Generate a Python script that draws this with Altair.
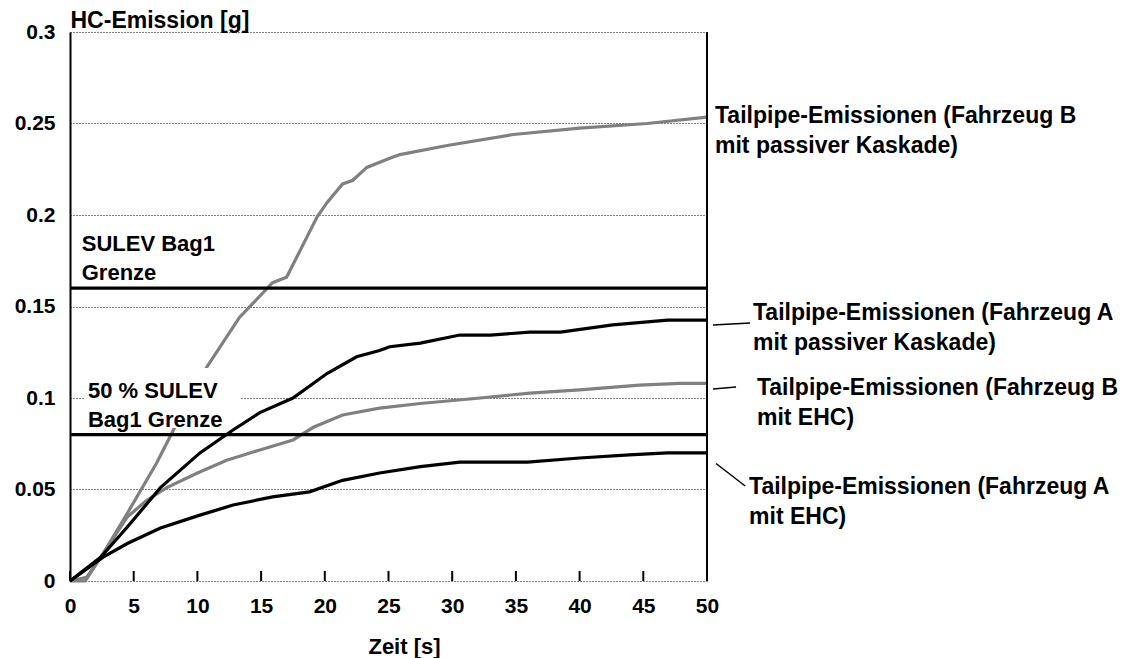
import altair as alt
import pandas as pd

# ---- data ----
b_pass_t = [0, 1.2, 2.6, 4.5, 6.8, 8.2, 10.75, 13.3, 15.9, 17.0, 19.4, 20.2, 21.4, 22.2, 23.3, 25.1, 25.9, 29.6, 34.8, 40, 45.3, 50]
b_pass_v = [0, 0, 0.015, 0.037, 0.0645, 0.0836, 0.117, 0.144, 0.163, 0.166, 0.199, 0.207, 0.217, 0.219, 0.226, 0.231, 0.233, 0.238, 0.244, 0.2475, 0.250, 0.2535]

a_pass_t = [0, 2.4, 4.5, 7.1, 10.2, 12.8, 14.9, 17.5, 20.2, 22.5, 24.3, 25.1, 27.5, 30.6, 33, 36.1, 38.5, 42.6, 46.9, 50]
a_pass_v = [0, 0.013, 0.0295, 0.051, 0.070, 0.0825, 0.092, 0.100, 0.1135, 0.1225, 0.126, 0.128, 0.130, 0.1344, 0.1344, 0.136, 0.136, 0.140, 0.1426, 0.1426]

b_ehc_t = [0, 1.3, 2.6, 4.5, 6.0, 7.6, 10, 12.3, 14.9, 17.5, 19.1, 21.4, 24.3, 27.5, 32.2, 36.1, 40, 44.7, 47.9, 50]
b_ehc_v = [0, 0.002, 0.015, 0.035, 0.044, 0.051, 0.059, 0.066, 0.0716, 0.077, 0.084, 0.0907, 0.0945, 0.097, 0.100, 0.1027, 0.1044, 0.107, 0.108, 0.108]

a_ehc_t = [0, 2.6, 4.5, 7.1, 10.2, 12.8, 15.9, 18.8, 21.4, 24.3, 27.5, 30.6, 35.9, 40, 43.9, 46.9, 50]
a_ehc_v = [0, 0.013, 0.0205, 0.029, 0.036, 0.0415, 0.046, 0.0487, 0.055, 0.059, 0.0625, 0.065, 0.065, 0.0672, 0.0689, 0.070, 0.070]

series_names = ["B passiv", "A passiv", "B EHC", "A EHC"]
series_colors = ["#808080", "#000000", "#808080", "#000000"]
gray_series = ["B passiv", "B EHC"]
black_series = ["A passiv", "A EHC"]

limit_values = [0.16, 0.08]
x_ticks = [0, 5, 10, 15, 20, 25, 30, 35, 40, 45, 50]
y_ticks = [0, 0.05, 0.1, 0.15, 0.2, 0.25, 0.3]

# annotation texts (data coordinates)
label_text = [
    "Tailpipe-Emissionen (Fahrzeug B", "mit passiver Kaskade)",
    "Tailpipe-Emissionen (Fahrzeug A", "mit passiver Kaskade)",
    "Tailpipe-Emissionen (Fahrzeug B", "mit EHC)",
    "Tailpipe-Emissionen (Fahrzeug A", "mit EHC)",
]
label_t = [50.63, 50.63, 53.61, 53.61, 53.92, 53.92, 53.30, 53.30]
label_v = [0.2503, 0.2339, 0.1426, 0.1262, 0.1016, 0.0852, 0.0475, 0.0311]

limit_text = ["SULEV Bag1", "Grenze", "50 % SULEV", "Bag1 Grenze"]
limit_t = [0.92, 0.92, 1.41, 1.41]
limit_v = [0.1803, 0.1645, 0.1000, 0.0842]

leader_t = [50.47, 50.47, 50.71]
leader_v = [0.1399, 0.1049, 0.0642]
leader_t2 = [53.38, 52.28, 53.0]
leader_v2 = [0.141, 0.106, 0.0519]

box_t, box_t2, box_v, box_v2 = [1.18], [13.34], [0.0836], [0.1164]

# ---- build tables ----
rows = []
for name, ts, vs in zip(series_names, [b_pass_t, a_pass_t, b_ehc_t, a_ehc_t],
                        [b_pass_v, a_pass_v, b_ehc_v, a_ehc_v]):
    for t, v in zip(ts, vs):
        rows.append({"series": name, "t": t, "v": v})
curves = pd.DataFrame(rows)
gray_curves = curves[curves["series"].isin(gray_series)]
black_curves = curves[curves["series"].isin(black_series)]

limits = pd.DataFrame({"v": limit_values})
ticks = pd.DataFrame({"t": x_ticks, "v": [0] * len(x_ticks), "v2": [0.0055] * len(x_ticks)})
border = pd.DataFrame({"t": [50], "v": [0], "v2": [0.3]})
labels = pd.DataFrame({"t": label_t, "v": label_v, "text": label_text})
limit_labels = pd.DataFrame({"t": limit_t, "v": limit_v, "text": limit_text})
leaders = pd.DataFrame({"t": leader_t, "v": leader_v, "t2": leader_t2, "v2": leader_v2})
box = pd.DataFrame({"t": box_t, "t2": box_t2, "v": box_v, "v2": box_v2})

FONT = "Liberation Sans"

xs = alt.Scale(domain=[0, 50], nice=False, zero=False)
ys = alt.Scale(domain=[0, 0.3], nice=False)

xa = alt.Axis(values=x_ticks, grid=False, domain=False, ticks=False, labelPadding=14,
              labelFont=FONT, labelFontSize=21, labelFontWeight="bold", labelColor="black",
              labelFlush=False, labelOverlap=False,
              title="Zeit [s]", titleFont=FONT, titleFontSize=22, titleFontWeight="bold",
              titleColor="black", titleX=334, titleY=72, titleBaseline="alphabetic",
              titleAlign="center", titleAnchor="start")
ya = alt.Axis(values=y_ticks, format="~g", grid=True, gridColor="black", gridDash=[1, 2],
              gridWidth=1, domain=True, domainColor="black", domainWidth=2, ticks=False,
              labelPadding=15, labelFont=FONT, labelFontSize=21, labelFontWeight="bold",
              labelColor="black", labelFlush=False, labelOverlap=False,
              title="HC-Emission [g]", titleFont=FONT, titleFontSize=23,
              titleFontWeight="bold", titleColor="black", titleAngle=0, titleX=0,
              titleY=-5, titleAlign="left", titleBaseline="alphabetic", titleAnchor="start")


def X(f="t"):
    return alt.X(f, type="quantitative", scale=xs, axis=xa)


def Y(f="v"):
    return alt.Y(f, type="quantitative", scale=ys, axis=ya)


color_enc = alt.Color("series:N", scale=alt.Scale(domain=series_names, range=series_colors),
                      legend=None)

gray_lines = alt.Chart(gray_curves).mark_line(strokeWidth=3.2).encode(
    x=X(), y=Y(), color=color_enc
)

white_box = alt.Chart(box).mark_rect(fill="white", stroke=None).encode(
    x=X(), x2="t2", y=Y(), y2="v2"
)

black_lines = alt.Chart(black_curves).mark_line(strokeWidth=3.2).encode(
    x=X(), y=Y(), color=color_enc
)

limit_rules = alt.Chart(limits).mark_rule(color="black", strokeWidth=3.2).encode(
    y=Y(), x=alt.datum(0, type="quantitative", scale=xs, axis=xa), x2=alt.datum(50)
)

right_border = alt.Chart(border).mark_rule(color="black", strokeWidth=2).encode(
    x=X(), y=Y(), y2="v2"
)

tick_rules = alt.Chart(ticks).mark_rule(color="black", strokeWidth=2).encode(
    x=X(), y=Y(), y2="v2"
)

leader_rules = alt.Chart(leaders).mark_rule(color="black", strokeWidth=1.5).encode(
    x=X(), x2="t2", y=Y(), y2="v2"
)

right_text = alt.Chart(labels).mark_text(
    align="left", baseline="alphabetic", font=FONT, fontSize=23, fontWeight="bold", color="black"
).encode(x=X(), y=Y(), text="text:N")

limit_text_marks = alt.Chart(limit_labels).mark_text(
    align="left", baseline="alphabetic", font=FONT, fontSize=22, fontWeight="bold", color="black"
).encode(x=X(), y=Y(), text="text:N")

chart = alt.layer(
    gray_lines, white_box, black_lines, limit_rules, right_border, tick_rules, leader_rules,
    right_text, limit_text_marks
).properties(
    width=637, height=549,
    autosize=alt.AutoSizeParams(type="none"),
    padding={"left": 70, "top": 32, "right": 422, "bottom": 77},
    background="white",
).configure_view(stroke=None)

chart.save("out.html", embed_options={"renderer": "svg", "actions": False})
